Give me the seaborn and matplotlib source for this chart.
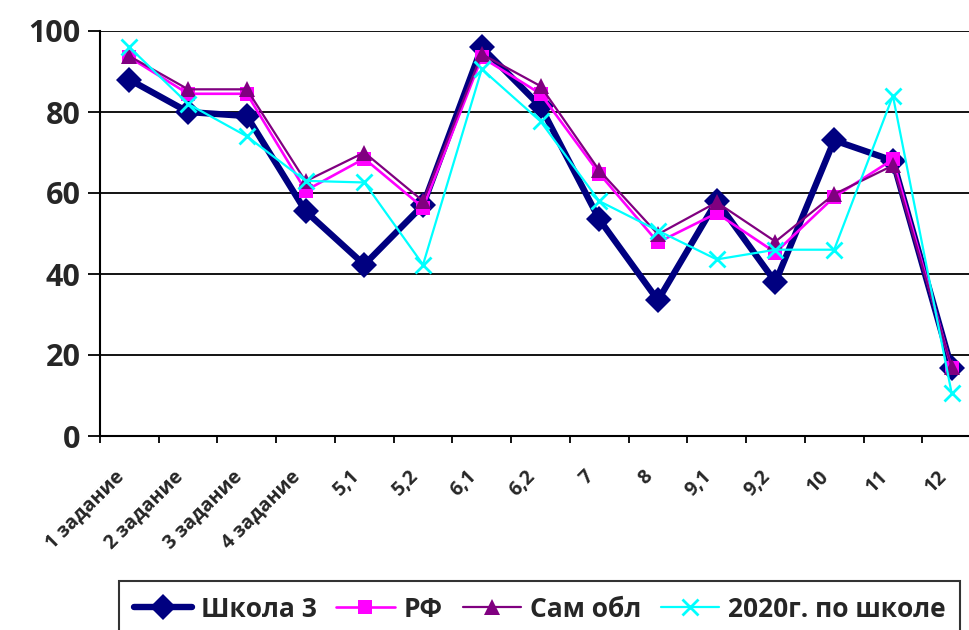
import numpy as np
import pandas as pd
import matplotlib
matplotlib.use("Agg")
import matplotlib.pyplot as plt
import matplotlib.transforms as mtransforms
import seaborn as sns

tasks = ["1 задание", "2 задание", "3 задание", "4 задание", "5,1", "5,2", "6,1",
         "6,2", "7", "8", "9,1", "9,2", "10", "11", "12"]
school3 = [88, 80, 79, 55.5, 42.3, 57, 96, 81.4, 53.5, 33.5, 58, 38, 73, 68, 16.8]
rf = [93.5, 84.5, 84.5, 60.6, 68.5, 56.4, 93.5, 84.5, 64.8, 47.8, 55, 45.3, 59, 68.3, 16.8]
sam_obl = [93.8, 85.6, 85.6, 62.9, 70, 58, 94.3, 86.4, 65.6, 49.8, 57.7, 48, 59.7, 66.8, 17]
school_2020 = [96, 82, 74, 63, 62.6, 42.3, 90.6, 77.7, 58, 50.7, 43.6, 46, 46, 84, 10.6]
y_ticks = [0, 20, 40, 60, 80, 100]

series = [
    ("Школа 3", school3, dict(color="#000080", lw=4.6, marker="D", ms=13, mew=0)),
    ("РФ", rf, dict(color="#FF00FF", lw=1.9, marker="s", ms=10, mew=0)),
    ("Сам обл", sam_obl, dict(color="#800080", lw=1.6, marker="^", ms=11, mew=0)),
    ("2020г. по школе", school_2020, dict(color="#00FFFF", lw=1.6, marker="x", ms=11, mew=2)),
]

sns.set_theme(style="white")
plt.rcParams["font.family"] = ["Open Sans", "DejaVu Sans"]
plt.rcParams["font.weight"] = "bold"

fig = plt.figure(figsize=(9.69, 6.3), dpi=100)
ax = fig.add_axes([100 / 969, 1 - 436 / 630, 881 / 969, (436 - 31) / 630])

pos = np.arange(len(tasks))
for name, values, st in series:
    df = pd.DataFrame({"x": pos, "y": values})
    sns.lineplot(data=df, x="x", y="y", ax=ax, color=st["color"], linewidth=st["lw"],
                 marker=st["marker"], markersize=st["ms"], markeredgewidth=st["mew"],
                 markeredgecolor=st["color"], label=name, legend=False, zorder=3)

ax.set_xlim(-0.5, len(tasks) - 0.5)
ax.set_ylim(0, 100)
ax.set_yticks(y_ticks)
ax.set_yticklabels([str(v) for v in y_ticks], fontsize=22, fontweight="bold")
ax.yaxis.grid(True, color="black", linewidth=1.3)
ax.set_axisbelow(True)
ax.tick_params(axis="y", direction="out", length=9, width=1.3, color="black", left=True, pad=5)

ax.set_xticks(pos)
ax.set_xticklabels(tasks, fontsize=14, fontweight="bold", rotation=45,
                   ha="right", va="center", rotation_mode="anchor")
ax.set_xticks(np.arange(-0.5, len(tasks), 1), minor=True)
ax.tick_params(axis="x", which="major", length=0, pad=27)
ax.tick_params(axis="x", which="minor", direction="out", length=5, width=1.3,
               color="black", bottom=True)
shift = mtransforms.ScaledTranslation(-8 / 100, 0, fig.dpi_scale_trans)
for lbl in ax.get_xticklabels():
    lbl.set_transform(lbl.get_transform() + shift)

for side in ["top", "right"]:
    ax.spines[side].set_visible(False)
for side in ["left", "bottom"]:
    ax.spines[side].set_color("black")
    ax.spines[side].set_linewidth(1.5)
ax.set_xlabel("")
ax.set_ylabel("")

handles, labels = ax.get_legend_handles_labels()
leg = fig.legend(handles, labels, loc="upper left", bbox_to_anchor=(119 / 969, 1 - 581 / 630),
                 ncol=4, prop={"weight": "bold", "size": 19}, frameon=True,
                 fancybox=False, edgecolor="black", handlelength=2.2, handletextpad=0.35,
                 columnspacing=0.75, borderpad=0.55, borderaxespad=0)
leg.get_frame().set_linewidth(1.5)

fig.savefig("out.png", dpi=100)
